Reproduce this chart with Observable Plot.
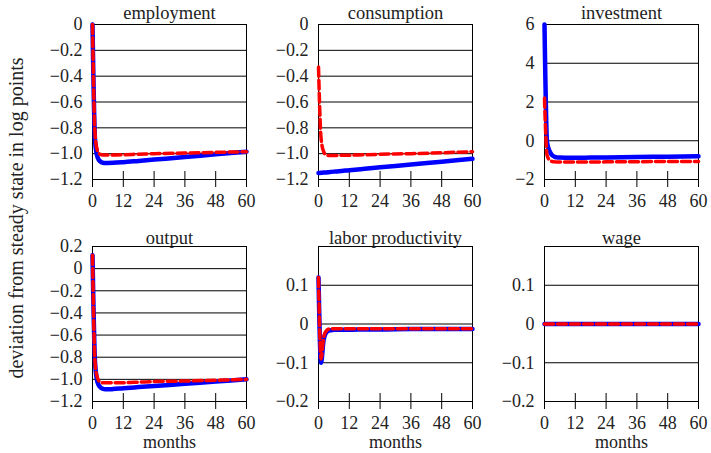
<!DOCTYPE html>
<html><head><meta charset="utf-8">
<script src="https://cdn.jsdelivr.net/npm/d3@7"></script>
<script src="https://cdn.jsdelivr.net/npm/@observablehq/plot@0.6"></script>
<style>
body{margin:0;background:#fff;}
#c{position:relative;width:711px;height:453px;overflow:hidden;font-family:"Liberation Serif",serif;background:#fff;}
.p{position:absolute;}
#ylab{position:absolute;width:420px;height:22px;line-height:22px;text-align:center;font-size:20px;color:#222;white-space:nowrap;transform:rotate(-90deg);transform-origin:50% 50%;}
</style></head><body><div id="c"></div>
<script>
const months = [0,1,2,3,4,5,6,8,12,18,24,36,48,60];
const xTicks = [0,12,24,36,48,60];

const employmentBlue = [0,-0.90,-1.03,-1.06,-1.07,-1.072,-1.072,-1.071,-1.066,-1.056,-1.046,-1.026,-1.005,-0.985];
const employmentRed  = [0,-0.85,-0.98,-1.005,-1.01,-1.01,-1.01,-1.01,-1.008,-1.004,-1.0,-0.995,-0.99,-0.985];
const consumptionBlue = [-1.150,-1.148,-1.146,-1.145,-1.143,-1.141,-1.139,-1.136,-1.128,-1.117,-1.106,-1.084,-1.062,-1.040];
const consumptionRed  = [-0.33,-0.88,-0.985,-1.01,-1.015,-1.015,-1.015,-1.013,-1.012,-1.008,-1.005,-1.0,-0.993,-0.985];
const investmentBlue = [6.0,-0.1,-0.55,-0.75,-0.83,-0.86,-0.87,-0.875,-0.875,-0.87,-0.86,-0.84,-0.82,-0.80];
const investmentRed  = [2.2,-0.75,-1.0,-1.07,-1.09,-1.1,-1.1,-1.1,-1.1,-1.095,-1.09,-1.08,-1.075,-1.07];
const outputBlue = [0.12,-0.85,-1.03,-1.07,-1.085,-1.09,-1.09,-1.088,-1.08,-1.07,-1.06,-1.04,-1.02,-1.0];
const outputRed  = [0.12,-0.85,-0.99,-1.025,-1.03,-1.03,-1.03,-1.03,-1.03,-1.025,-1.02,-1.015,-1.008,-1.0];
const productivityBlue = [0.12,-0.10,-0.04,-0.022,-0.017,-0.016,-0.015,-0.015,-0.015,-0.014,-0.014,-0.013,-0.013,-0.013];
const productivityRed  = [0.12,-0.09,-0.035,-0.018,-0.013,-0.012,-0.012,-0.012,-0.012,-0.012,-0.012,-0.012,-0.012,-0.012];
const wageBlue = [0,0,0,0,0,0,0,0,0,0,0,0,0,0];
const wageRed  = [0,0,0,0,0,0,0,0,0,0,0,0,0,0];

const titles = ["employment","consumption","investment","output","labor productivity","wage"];
const yTicksLevel = [0,-0.2,-0.4,-0.6,-0.8,-1.0,-1.2];
const yTicksInvest = [6,4,2,0,-2];
const yTicksOutput = [0.2,0,-0.2,-0.4,-0.6,-0.8,-1.0,-1.2];
const yTicksSmall = [0.1,0,-0.1,-0.2];
const xLabel = "months";
const yLabel = "deviation from steady state in log points";

const panels = [
  {title:titles[0], blue:employmentBlue, red:employmentRed, domain:[-1.2,0], ticks:yTicksLevel, fmt:".1f"},
  {title:titles[1], blue:consumptionBlue, red:consumptionRed, domain:[-1.2,0], ticks:yTicksLevel, fmt:".1f"},
  {title:titles[2], blue:investmentBlue, red:investmentRed, domain:[-2,6], ticks:yTicksInvest, fmt:"d"},
  {title:titles[3], blue:outputBlue, red:outputRed, domain:[-1.2,0.2], ticks:yTicksOutput, fmt:".1f"},
  {title:titles[4], blue:productivityBlue, red:productivityRed, domain:[-0.2,0.2], ticks:yTicksSmall, fmt:".1f"},
  {title:titles[5], blue:wageBlue, red:wageRed, domain:[-0.2,0.2], ticks:yTicksSmall, fmt:".1f"}
];

const colLeft = [92,318,544], rowTop = [24,246];
const FW = 154, FH = 155, ML = 55, MR = 8, MT = 28;
const c = document.getElementById("c");

panels.forEach((p, i) => {
  const col = i % 3, row = Math.floor(i / 3);
  const MB = row === 1 ? 50 : 32;
  const f = d3.format(p.fmt);
  const tf = d => d === 0 ? "0" : f(d);
  const blue = months.map((t, j) => ({t, v: p.blue[j]}));
  const red = months.map((t, j) => ({t, v: p.red[j]}));
  const grid = p.ticks.filter(d => d > p.domain[0] && d < p.domain[1]);
  const marks = [
    Plot.ruleY(grid, {stroke:"#000", strokeWidth:1}),
    Plot.frame({stroke:"#000", strokeWidth:1}),
    Plot.tickX(xTicks, {x:d=>d, stroke:"#000", strokeWidth:1, insetTop: FH - 8, insetBottom: -8}),
    Plot.axisX({ticks:xTicks, tickSize:0, tickPadding:15, tickFormat:d=>String(d), fontSize:18, color:"#222", label:null}),
    Plot.axisY({ticks:p.ticks, tickSize:0, tickPadding:10, tickFormat:tf, fontSize:18, color:"#222", label:null}),
    Plot.line(blue, {x:"t", y:"v", stroke:"#0000ff", strokeWidth:4.5, curve:"monotone-x"}),
    Plot.line(red, {x:"t", y:"v", stroke:"#ff0000", strokeWidth:3.5, strokeDasharray:"9,4", curve:"monotone-x"}),
    Plot.text([p.title], {frameAnchor:"top", dy: row === 0 ? -5.5 : -3, lineAnchor:"bottom", fontSize:18.5, fill:"#222"})
  ];
  if (row === 1) marks.push(Plot.text([xLabel], {frameAnchor:"bottom", dy:46, lineAnchor:"bottom", fontSize:18, fill:"#222"}));
  const svg = Plot.plot({
    width: ML + FW + MR, height: MT + FH + MB,
    marginLeft: ML, marginRight: MR, marginTop: MT, marginBottom: MB,
    x: {domain:[0,60]},
    y: {domain:p.domain},
    style: {background:"transparent", overflow:"visible", fontFamily:"'Liberation Serif', serif", fontSize:"18px"},
    marks
  });
  svg.classList.add("p");
  svg.style.left = (colLeft[col] - ML) + "px";
  svg.style.top = (rowTop[row] - MT) + "px";
  c.appendChild(svg);
});

const yl = document.createElement("div");
yl.id = "ylab";
yl.textContent = yLabel;
yl.style.left = (16 - 210) + "px";
yl.style.top = (218 - 11) + "px";
c.appendChild(yl);
</script></body></html>
